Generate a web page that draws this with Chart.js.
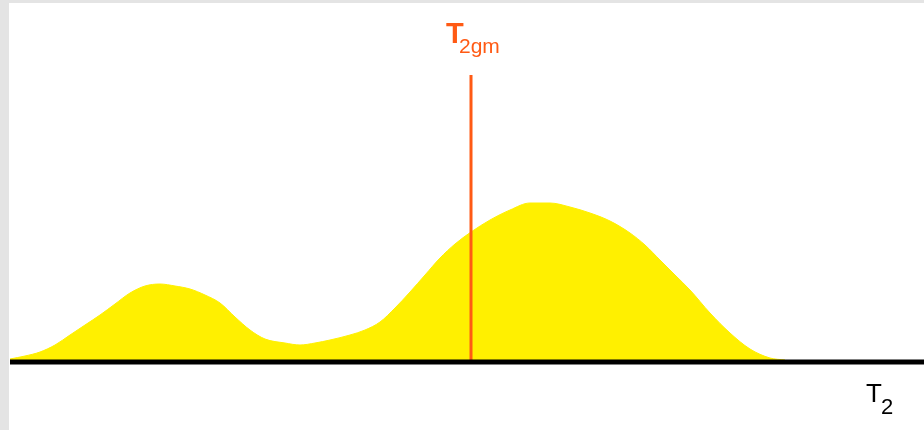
<!DOCTYPE html>
<html>
<head>
<meta charset="utf-8">
<script src="https://cdn.jsdelivr.net/npm/chart.js@4"></script>
<style>
  html, body { margin: 0; padding: 0; background: #fff; }
  canvas { display: block; }
</style>
</head>
<body>
<canvas id="t2chart" width="924" height="430"></canvas>
<script>
// T2 distribution (T2 position, amplitude)
const t2Values = [10, 25, 40, 55, 70, 85, 100, 115, 130, 145, 160, 175, 190, 205, 220, 235, 250, 265, 285, 300,
                  315, 330, 350, 365, 380, 395, 410, 425, 440, 455, 471, 490, 510, 530, 550, 570, 590, 610, 630, 645,
                  660, 675, 690, 710, 730, 750, 770, 785]
const amplitudes = [3, 6, 10, 17, 27, 37, 47, 58, 69, 76, 78, 76, 73, 67, 59, 45, 32, 23, 19, 17,
                    19, 22, 27, 32, 40, 54, 70, 87, 104, 118, 130, 142, 152, 159, 159, 155, 149, 141, 129, 117,
                    102, 87, 72, 49, 29, 13, 4, 2]
// geometric mean T2 marker
const t2gm = 471
const t2gmHeight = 287

const ctx = document.getElementById('t2chart').getContext('2d')

const decorations = {
    id: 'decorations',
    beforeDraw: (chart) => {
        const c = chart.ctx
        // scanned page edge
        c.save()
        c.fillStyle = '#e4e4e4'
        c.fillRect(0, 0, 9, 430)
        c.fillRect(0, 0, 924, 3)
        c.restore()
    },
    afterDatasetsDraw: (chart) => {
        const c = chart.ctx
        const x = chart.scales.x
        const y = chart.scales.y
        const base = y.getPixelForValue(0)
        c.save()
        // baseline
        c.strokeStyle = '#000'
        c.lineWidth = 5
        c.beginPath()
        c.moveTo(x.getPixelForValue(10), base)
        c.lineTo(x.getPixelForValue(924), base)
        c.stroke()

        // T2gm label
        const mx = x.getPixelForValue(t2gm)
        c.fillStyle = '#ff5a14'
        c.textBaseline = 'alphabetic'
        c.font = 'bold 29px "Liberation Sans", Arial, sans-serif'
        c.fillText('T', mx - 25, 43)
        c.font = '21px "Liberation Sans", Arial, sans-serif'
        c.fillText('2gm', mx - 12, 53)

        // axis label
        c.fillStyle = '#000'
        c.font = '26px "Liberation Sans", Arial, sans-serif'
        c.fillText('T', 866, 402)
        c.font = '22px "Liberation Sans", Arial, sans-serif'
        c.fillText('2', 881, 414)
        c.restore()
    }
}

const myChart = new Chart(ctx, {
    type: 'line',
    data: {
        datasets: [{
            label: 'distribution',
            data: t2Values.map((t, i) => ({ x: t, y: amplitudes[i] })),
            borderColor: '#fff000',
            backgroundColor: '#fff000',
            borderWidth: 1,
            fill: 'origin',
            pointRadius: 0,
            cubicInterpolationMode: 'monotone',
            order: 1
        }, {
            label: 'T2gm',
            data: [{ x: t2gm, y: 0 }, { x: t2gm, y: t2gmHeight }],
            borderColor: '#ff5a14',
            borderWidth: 3,
            pointRadius: 0,
            fill: false,
            order: 0
        }]
    },
    options: {
        responsive: false,
        animation: false,
        layout: { padding: 0 },
        plugins: {
            legend: { display: false },
            tooltip: { enabled: false }
        },
        scales: {
            x: { type: 'linear', min: 0, max: 924, display: false },
            y: { min: -68, max: 362, display: false }
        }
    },
    plugins: [decorations]
});
</script>
</body>
</html>
